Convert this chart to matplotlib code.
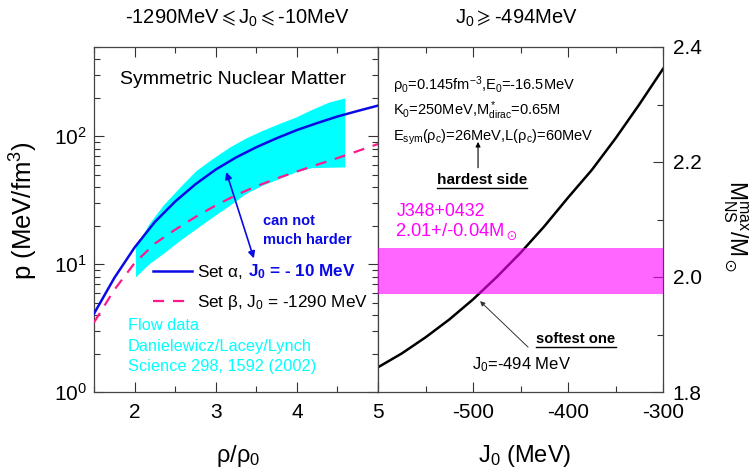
import matplotlib
matplotlib.use("Agg")
import matplotlib.pyplot as plt
from matplotlib.ticker import FixedLocator, FixedFormatter, MultipleLocator, LogLocator, NullFormatter
from matplotlib.lines import Line2D
from matplotlib.transforms import IdentityTransform

plt.rcParams['font.family'] = ['Liberation Sans', 'DejaVu Sans']
plt.rcParams['mathtext.fontset'] = 'custom'
plt.rcParams['mathtext.rm'] = 'Liberation Sans'
plt.rcParams['mathtext.it'] = 'Liberation Sans:italic'
plt.rcParams['mathtext.bf'] = 'Liberation Sans:bold'
plt.rcParams['mathtext.sf'] = 'Liberation Sans'
plt.rcParams['mathtext.fallback'] = 'stix'

# ---------------- data ----------------
rho = [1.5, 1.75, 2.0, 2.25, 2.5, 2.75, 3.0, 3.25, 3.5, 3.75, 4.0, 4.25, 4.5, 4.75, 5.0]
p_alpha = [4.1, 7.8, 13.5, 21.4, 30.9, 42.2, 55, 68.4, 82.2, 96.6, 112, 127, 143, 158, 174]
p_beta = [3.5, 6.3, 10.2, 14.5, 18.6, 23.4, 28.8, 34.7, 40.7, 46.8, 53.1, 60, 67.6, 76.7, 87.1]

flow_rho = [2.01, 2.18, 2.35, 2.56, 2.76, 2.96, 3.17, 3.37, 3.57, 3.78, 3.98, 4.18, 4.39, 4.59]
flow_hi = [13.6, 20.8, 28.9, 40.2, 54.2, 67, 82.5, 97, 111, 126, 141, 162, 185, 200]
flow_lo = [7.96, 10.1, 12.1, 15.4, 19, 23.4, 28.9, 35.7, 41.4, 46.7, 52.6, 56.9, 57.3, 57.6]

J0 = [-600, -575, -550, -525, -500, -475, -450, -425, -400, -375, -350, -325, -300]
Mmax = [1.843, 1.867, 1.895, 1.926, 1.961, 2.0, 2.042, 2.088, 2.138, 2.186, 2.241, 2.300, 2.362]
band_lo, band_hi = 1.97, 2.05

W, H = 753, 470
fig = plt.figure(figsize=(W / 100, H / 100), dpi=100)

def fr(x, y):
    return (x / W, 1 - y / H)

axL = fig.add_axes([94 / W, (H - 392) / H, (378 - 94) / W, (392 - 47) / H])
axR = fig.add_axes([378 / W, (H - 392) / H, (663 - 378) / W, (392 - 47) / H])

# ---------------- left panel ----------------
axL.fill_between(flow_rho, flow_lo, flow_hi, color='#00ffff', lw=0, zorder=1)
la, = axL.plot(rho, p_alpha, color='#0a0ae6', lw=1.8, zorder=3)
lb, = axL.plot(rho, p_beta, color='#ff1a8c', lw=1.6, ls=(0, (5, 4)), zorder=3)
axL.set_yscale('log')
axL.set_xlim(1.5, 5)
axL.set_ylim(1, 500)
axL.xaxis.set_major_locator(FixedLocator([2, 3, 4, 5]))
axL.xaxis.set_minor_locator(MultipleLocator(0.5))
axL.yaxis.set_major_locator(LogLocator(base=10, numticks=5))
axL.yaxis.set_minor_locator(LogLocator(base=10, subs=range(2, 10), numticks=20))
axL.yaxis.set_minor_formatter(NullFormatter())
axL.tick_params(which='both', direction='in', top=True, right=True, labelsize=15, width=0.8, color='#333333')
axL.tick_params(which='major', length=7)
axL.tick_params(which='minor', length=4)
axL.tick_params(axis='x', pad=8)
axL.tick_params(axis='y', pad=5)
axL.set_xlabel(r'$\mathrm{\rho}/\mathrm{\rho}_0$', fontsize=17)
axL.xaxis.set_label_coords(0.507, -0.148)
axL.set_ylabel(r'p (MeV/fm$^3$)', fontsize=18.5)
axL.yaxis.set_label_coords(-0.19, 0.525)

fig.text(*fr(233, 80), 'Symmetric Nuclear Matter', fontsize=14, ha='center', va='center')
axL.annotate('', xy=(3.13, 52.6), xytext=(3.47, 11.1),
             arrowprops=dict(arrowstyle='<|-|>', color='#0a0ae6', lw=1.2, mutation_scale=10, shrinkA=0, shrinkB=0))
fig.text(*fr(263, 221), 'can not', color='#0a0ae6', fontsize=10.5, fontweight='bold', va='center')
fig.text(*fr(263, 240), 'much harder', color='#0a0ae6', fontsize=10.5, fontweight='bold', va='center')

leg = axL.legend([la, lb], [r'Set $\mathrm{\alpha}$,', r'Set $\mathrm{\beta}$, J$_0$ = -1290 MeV'],
                 loc='upper left', bbox_to_anchor=(0.207, 0.375), frameon=False, fontsize=12.3,
                 handlelength=2.3, handletextpad=0.3, labelspacing=0.7, borderpad=0, borderaxespad=0)
t0 = leg.get_texts()[0]
axL.annotate(r'J$_{\mathbf{0}}$ = - 10 MeV', xy=(1, 0), xycoords=t0, xytext=(4, 0), textcoords='offset points',
             color='#0a0ae6', fontsize=12.3, fontweight='bold', va='bottom', ha='left')

for txt, yy in [('Flow data', 326), ('Danielewicz/Lacey/Lynch', 346), ('Science 298, 1592 (2002)', 366)]:
    fig.text(*fr(128, yy), txt, color='#00ffff', fontsize=11.8, va='center', ha='left')

# ---------------- right panel ----------------
axR.plot(J0, Mmax, color='black', lw=1.8, zorder=2)
axR.axhspan(band_lo, band_hi, color='#ff00ff', alpha=0.6, lw=0, zorder=3)
axR.set_xlim(-600, -300)
axR.set_ylim(1.8, 2.4)
axR.xaxis.set_major_locator(FixedLocator([-600, -500, -400, -300]))
axR.xaxis.set_major_formatter(FixedFormatter(['', '-500', '-400', '-300']))
axR.xaxis.set_minor_locator(MultipleLocator(50))
axR.yaxis.set_major_locator(MultipleLocator(0.2))
axR.yaxis.set_minor_locator(MultipleLocator(0.1))
axR.yaxis.set_major_formatter(plt.FuncFormatter(lambda v, p: f'{v:.1f}'))
axR.tick_params(which='both', direction='in', top=True, right=True, left=False,
                labelleft=False, labelright=True, labelsize=15, width=0.8, color='#333333')
axR.tick_params(which='major', length=7)
axR.tick_params(which='minor', length=4)
axR.tick_params(axis='x', pad=8)
axR.tick_params(axis='y', pad=7)
axR.set_xlabel(r'J$_0$ (MeV)', fontsize=17)
axR.xaxis.set_label_coords(0.516, -0.148)
axR.yaxis.set_label_position('right')
axR.set_ylabel(r'M$_{\rm NS}^{\rm max}$/M$_\odot$', fontsize=16.5, rotation=270, va='center')
axR.yaxis.set_label_coords(1.253, 0.48)

fig.text(*fr(393, 85), r'$\mathrm{\rho}_0$=0.145fm$^{-3}$,E$_0$=-16.5MeV', fontsize=10.5, va='center')
fig.text(*fr(393, 111), r'K$_0$=250MeV,M$^*_{\rm dirac}$=0.65M', fontsize=10.5, va='center')
fig.text(*fr(393, 137), r'E$_{\rm sym}$($\mathrm{\rho}_{\rm c}$)=26MeV,L($\mathrm{\rho}_{\rm c}$)=60MeV', fontsize=10.5, va='center')
axR.annotate('', xy=(-494.7, 2.235), xytext=(-494.7, 2.19),
             arrowprops=dict(arrowstyle='-|>', color='black', lw=0.8, mutation_scale=7, shrinkA=0, shrinkB=0))
hs = fig.text(*fr(482, 180), 'hardest side', fontsize=11, fontweight='bold', ha='center', va='center')
fig.text(*fr(397, 212), 'J348+0432', fontsize=12.8, color='#ff00ff', va='center')
fig.text(*fr(395, 232), r'2.01+/-0.04M$_\odot$', fontsize=13.2, color='#ff00ff', va='center')
axR.annotate('', xy=(-492.6, 1.958), xytext=(-442, 1.878),
             arrowprops=dict(arrowstyle='-|>', color='#333333', lw=0.7, mutation_scale=7, shrinkA=0, shrinkB=0))
so = fig.text(*fr(576, 339), 'softest one', fontsize=10.6, fontweight='bold', ha='center', va='center')
fig.text(*fr(472, 365), r'J$_0$=-494 MeV', fontsize=12, va='center')

# titles
fig.text(*fr(237, 18), r'-1290MeV$\leqslant$J$_0$$\leqslant$-10MeV', fontsize=14.5, ha='center', va='center')
fig.text(*fr(516, 18), r'J$_0$$\geqslant$-494MeV', fontsize=14.5, ha='center', va='center')

for ax in (axL, axR):
    for s in ax.spines.values():
        s.set_color('#444444')
        s.set_linewidth(0.9)

# underline bold labels
fig.canvas.draw()
r = fig.canvas.get_renderer()
for t in (hs, so):
    bb = t.get_window_extent(r)
    fig.add_artist(Line2D([bb.x0, bb.x1], [bb.y0 - 1, bb.y0 - 1], transform=IdentityTransform(), color='black', lw=1.0))

fig.savefig('out.png', dpi=100)
